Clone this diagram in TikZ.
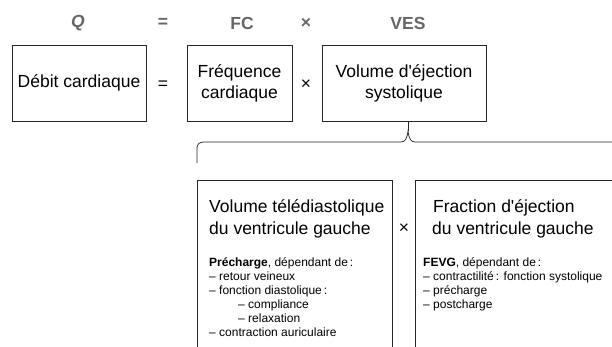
\documentclass[tikz,border=0pt]{standalone}
\usepackage{fontspec}
\setmainfont{Liberation Sans}
\begin{document}
\begin{tikzpicture}[x=1pt,y=-1pt,
  box/.style={draw=black!85, line width=0.75pt, inner sep=0pt, outer sep=0pt},
  big/.style={font=\fontsize{17.5}{20}\selectfont, inner sep=0pt},
  toplabel/.style={font=\fontsize{17.5}{20}\selectfont\bfseries, text=black!60, inner sep=0pt},
  line/.style={anchor=base west, inner sep=0pt, font=\fontsize{12}{12}\selectfont},
  head/.style={anchor=base west, inner sep=0pt, font=\fontsize{17.5}{20}\selectfont},
  link/.style={draw=black!85, line width=0.75pt}]
\useasboundingbox (0,0) rectangle (612,346);
\clip (0,0) rectangle (612,346);

% formula row
\node[toplabel, font=\fontsize{17.5}{20}\selectfont\bfseries\itshape] (lq) at (78,23) {Q};
\node[toplabel] (leq) at (163,23) {=};
\node[toplabel] (lfc) at (242,23) {FC};
\node[toplabel] (lx) at (306,23) {×};
\node[toplabel] (lves) at (408,23) {VES};

% main boxes
\node[box, big, minimum width=134pt, minimum height=76pt] (dc) at (79,83) {Débit cardiaque};
\node[big] (eq) at (163,85) {=};
\node[box, big, minimum width=105pt, minimum height=76pt, align=center] (fc) at (239.5,83) {Fréquence\\[1pt]cardiaque};
\node[big] (times) at (306,85) {×};
\node[box, big, minimum width=164pt, minimum height=76pt, align=center] (ves) at (404,83) {Volume d\textquotesingle éjection\\[1pt]systolique};

% brace under the stroke volume
\coordinate (tip) at (408,131);
\draw[link] (tip |- ves.south) -- (tip);
\draw[link] (197,163) -- (197,150) .. controls (197,143) and (199,142) .. (206,142)
  -- (401,142) .. controls (405,142) and (407,139) .. (tip)
  .. controls (409,139) and (411,142) .. (415,142)
  -- (610,142) .. controls (617,142) and (619,143) .. (619,150) -- (619,163);

% lower boxes
\node[box, anchor=north west, minimum width=195pt, minimum height=200pt] (vtd) at (197,180) {};
\node[box, anchor=north west, minimum width=240pt, minimum height=200pt] (fe) at (415,180) {};
\node[big] (times2) at (404,229) {×};

% end-diastolic volume
\node[head] (h1) at (209,212) {Volume télédiastolique};
\node[head] (h2) at (209,234) {du ventricule gauche};
\node[line] (a1) at (209,266) {\textbf{Précharge}, dépendant de\,:};
\node[line] (a2) at (209,280) {– retour veineux};
\node[line] (a3) at (209,294) {– fonction diastolique\,:};
\node[line] (a4) at (238,308) {– compliance};
\node[line] (a5) at (238,322) {– relaxation};
\node[line] (a6) at (209,336) {– contraction auriculaire};

% ejection fraction
\node[head] (k1) at (433,212) {Fraction d\textquotesingle éjection};
\node[head] (k2) at (432,234) {du ventricule gauche};
\node[line] (b1) at (423,266) {\textbf{FEVG}, dépendant de\,:};
\node[line] (b2) at (423,280) {– contractilité\,: fonction systolique};
\node[line] (b3) at (423,294) {– précharge};
\node[line] (b4) at (423,308) {– postcharge};
\end{tikzpicture}
\end{document}
